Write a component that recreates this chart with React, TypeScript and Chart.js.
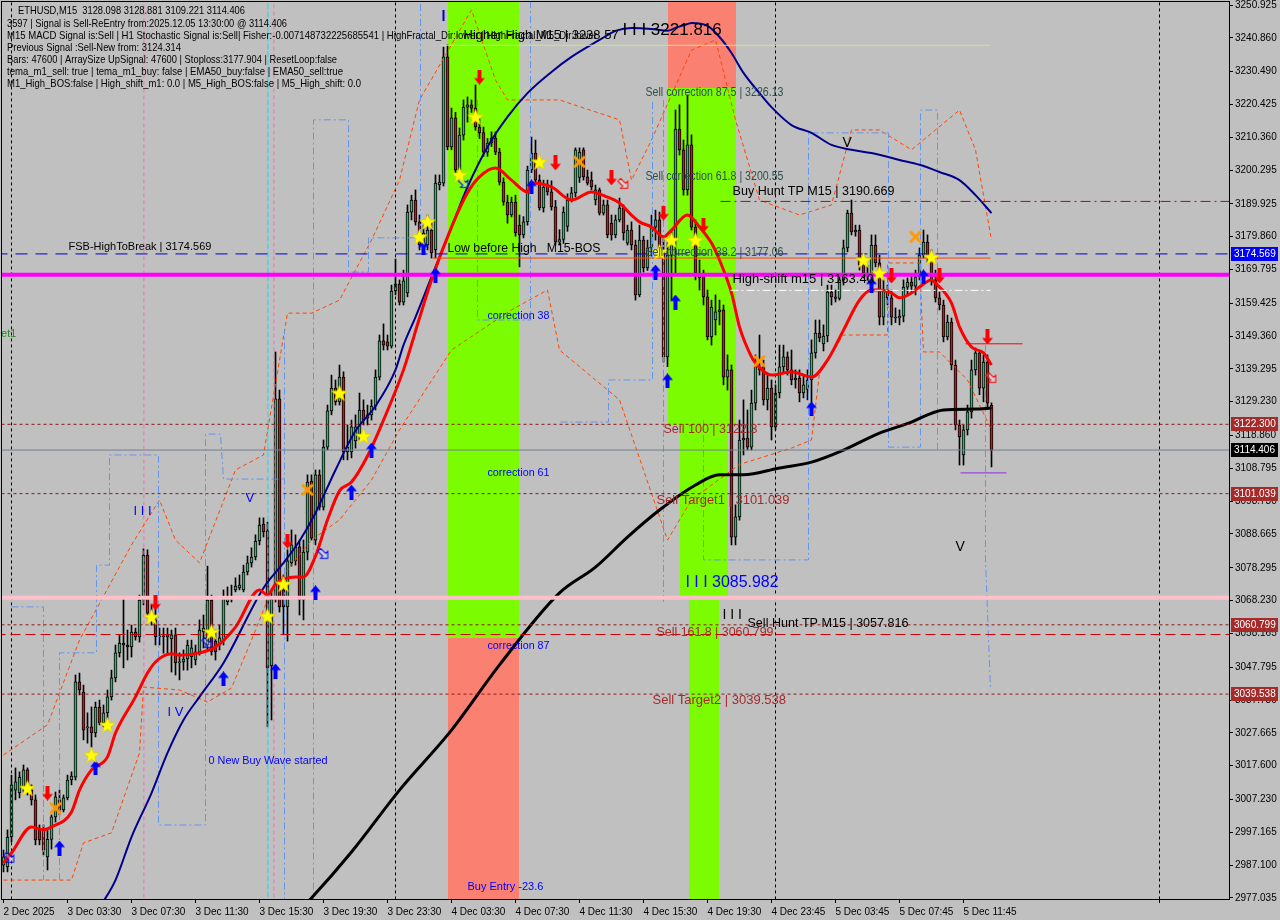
import React, { useEffect, useRef } from "react";
import { Chart, registerables } from "chart.js";

Chart.register(...registerables);

// ---------------- DATA ----------------
// one [open, high, low, close] row per M15 bar (bar 0 = 2 Dec 23:30)
const candles: number[][] = [
  [2987.1, 2991.7, 2985.0, 2989.6], [2986.5, 2997.9, 2985.0, 2995.7], [2995.7, 3014.7, 2994.2, 3011.7], [3010.1, 3016.9, 3007.1, 3012.6],
  [3009.2, 3015.7, 3007.7, 3014.1], [3011.1, 3017.8, 3009.5, 3016.3], [3016.3, 3016.9, 3008.6, 3010.1], [3010.1, 3011.7, 3005.5, 3007.1],
  [3007.1, 3008.6, 2993.3, 2994.8], [2997.9, 2999.4, 2993.3, 2994.8], [2997.9, 2999.4, 2990.2, 2991.7], [2989.6, 2998.0, 2985.6, 2995.0],
  [2995.0, 3002.5, 2992.0, 3001.9], [3001.9, 3009.5, 3000.3, 3008.0], [3007.1, 3010.1, 3002.5, 3004.0], [3004.0, 3008.6, 3003.4, 3007.7],
  [3007.7, 3014.7, 3007.1, 3013.2], [3013.2, 3015.7, 3011.7, 3014.4], [3014.1, 3045.4, 3013.2, 3043.3], [3043.3, 3046.0, 3039.3, 3040.8],
  [3040.2, 3042.3, 3025.5, 3028.5], [3029.2, 3033.8, 3024.5, 3029.5], [3029.5, 3035.6, 3023.3, 3027.6], [3027.6, 3037.1, 3026.4, 3035.6],
  [3035.6, 3037.7, 3030.1, 3030.7], [3030.7, 3036.2, 3029.5, 3033.8], [3033.8, 3040.8, 3031.6, 3038.7], [3038.7, 3046.9, 3037.7, 3044.5],
  [3044.5, 3054.6, 3043.3, 3052.2], [3052.2, 3057.7, 3050.9, 3055.2], [3055.2, 3069.0, 3047.6, 3054.6], [3054.6, 3059.2, 3050.0, 3054.0],
  [3054.0, 3060.7, 3050.9, 3058.6], [3058.6, 3059.8, 3056.1, 3057.1], [3057.1, 3069.9, 3055.5, 3068.4], [3068.4, 3084.1, 3066.9, 3082.2],
  [3082.2, 3083.8, 3062.9, 3064.4], [3064.4, 3066.9, 3060.7, 3062.3], [3062.3, 3066.6, 3054.6, 3057.1], [3057.1, 3059.8, 3054.6, 3057.4],
  [3057.4, 3059.8, 3052.1, 3057.1], [3057.1, 3059.8, 3051.5, 3057.7], [3056.5, 3059.2, 3046.3, 3057.7], [3057.7, 3059.8, 3045.4, 3049.1],
  [3049.1, 3052.2, 3043.9, 3049.4], [3049.4, 3053.1, 3046.9, 3050.3], [3050.3, 3056.1, 3046.9, 3054.6], [3051.0, 3056.1, 3047.6, 3053.7],
  [3050.0, 3054.6, 3048.5, 3052.5], [3052.5, 3062.3, 3051.5, 3059.2], [3058.6, 3063.8, 3053.7, 3059.8], [3054.6, 3078.8, 3053.1, 3068.4],
  [3068.4, 3069.9, 3051.5, 3052.5], [3055.8, 3059.2, 3050.0, 3052.5], [3054.6, 3060.7, 3053.1, 3056.8], [3055.8, 3071.5, 3054.6, 3069.3],
  [3067.8, 3072.4, 3066.9, 3069.3], [3069.0, 3073.0, 3067.8, 3069.6], [3071.5, 3075.2, 3070.9, 3072.7], [3072.1, 3076.1, 3071.5, 3073.0],
  [3071.5, 3079.1, 3070.9, 3077.0], [3077.0, 3081.9, 3076.1, 3079.8], [3079.8, 3084.4, 3078.5, 3081.6], [3081.6, 3088.4, 3080.7, 3086.5],
  [3086.5, 3093.6, 3085.3, 3091.4], [3091.7, 3093.6, 3087.7, 3089.3], [3089.6, 3092.3, 3029.5, 3047.6], [3048.2, 3071.5, 3031.6, 3068.7],
  [3068.7, 3144.5, 3067.8, 3130.1], [3130.1, 3132.8, 3064.7, 3066.3], [3071.5, 3076.1, 3058.0, 3066.3], [3066.3, 3083.8, 3055.8, 3080.4],
  [3079.8, 3089.9, 3078.8, 3085.3], [3080.4, 3088.4, 3079.1, 3084.7], [3084.7, 3086.8, 3063.8, 3068.4], [3068.4, 3086.8, 3062.3, 3083.1],
  [3083.1, 3106.8, 3080.7, 3104.6], [3104.9, 3106.8, 3086.8, 3087.4], [3086.8, 3108.3, 3085.3, 3106.8], [3106.8, 3108.3, 3096.0, 3096.9],
  [3096.9, 3117.5, 3096.0, 3115.3], [3115.3, 3128.2, 3114.4, 3126.4], [3126.4, 3137.4, 3125.2, 3133.4], [3133.4, 3135.9, 3128.2, 3129.2],
  [3129.2, 3140.5, 3128.2, 3136.8], [3136.8, 3138.4, 3111.4, 3113.8], [3113.8, 3122.1, 3111.4, 3115.3], [3113.8, 3123.6, 3112.0, 3121.5],
  [3117.2, 3125.2, 3115.0, 3121.5], [3119.3, 3131.9, 3117.5, 3126.7], [3126.7, 3129.8, 3122.1, 3123.6], [3124.2, 3128.2, 3122.1, 3125.2],
  [3125.2, 3129.8, 3123.6, 3127.9], [3127.9, 3139.0, 3126.7, 3136.8], [3136.8, 3149.7, 3135.9, 3147.9], [3147.9, 3153.1, 3145.1, 3146.6],
  [3147.6, 3149.7, 3145.1, 3146.3], [3146.3, 3165.0, 3145.7, 3163.2], [3163.2, 3173.0, 3162.0, 3165.3], [3165.3, 3166.6, 3158.9, 3159.8],
  [3159.8, 3169.6, 3158.9, 3166.3], [3162.6, 3189.6, 3161.4, 3187.4], [3187.4, 3192.6, 3185.0, 3191.1], [3191.1, 3194.2, 3183.4, 3184.4],
  [3184.4, 3186.5, 3175.8, 3177.3], [3176.7, 3183.4, 3175.8, 3181.0], [3177.3, 3186.5, 3175.8, 3181.9], [3181.9, 3184.4, 3173.3, 3174.9],
  [3175.8, 3198.8, 3173.3, 3196.3], [3195.7, 3198.8, 3194.2, 3196.6], [3196.3, 3238.0, 3195.4, 3235.0], [3235.0, 3238.7, 3206.5, 3207.4],
  [3207.4, 3219.3, 3206.5, 3216.3], [3216.3, 3218.0, 3199.0, 3200.3], [3200.3, 3213.2, 3198.5, 3211.0], [3211.0, 3221.8, 3209.5, 3219.6],
  [3219.6, 3222.7, 3215.0, 3220.3], [3220.3, 3221.8, 3218.0, 3219.3], [3219.3, 3226.4, 3212.5, 3213.5], [3213.5, 3216.0, 3210.0, 3211.8],
  [3211.8, 3213.5, 3204.5, 3205.8], [3205.8, 3210.0, 3204.5, 3208.6], [3208.6, 3212.0, 3207.5, 3210.1], [3210.1, 3212.0, 3205.0, 3205.8],
  [3205.8, 3207.0, 3195.7, 3196.6], [3196.6, 3197.9, 3189.5, 3190.5], [3190.5, 3192.6, 3184.0, 3186.5], [3186.5, 3192.0, 3185.9, 3190.5],
  [3190.5, 3192.6, 3180.0, 3181.0], [3183.4, 3186.5, 3170.6, 3180.4], [3180.4, 3186.0, 3179.5, 3184.4], [3184.4, 3201.5, 3183.4, 3200.3],
  [3200.3, 3210.4, 3199.5, 3205.5], [3205.5, 3209.5, 3196.5, 3197.2], [3197.2, 3198.8, 3188.0, 3188.7], [3188.7, 3197.2, 3187.4, 3195.1],
  [3195.7, 3197.2, 3192.6, 3193.6], [3193.6, 3197.0, 3188.0, 3189.0], [3189.0, 3191.0, 3177.3, 3178.2], [3178.2, 3182.0, 3177.3, 3179.0],
  [3179.0, 3189.0, 3177.8, 3187.4], [3183.0, 3193.0, 3181.5, 3191.1], [3191.1, 3195.0, 3190.5, 3193.3], [3193.3, 3207.1, 3192.0, 3206.5],
  [3198.0, 3207.1, 3196.5, 3205.8], [3206.5, 3207.1, 3197.2, 3198.2], [3198.2, 3200.3, 3195.7, 3196.3], [3197.2, 3199.7, 3194.2, 3195.1],
  [3191.1, 3195.7, 3189.6, 3194.2], [3194.2, 3194.8, 3186.5, 3187.1], [3187.1, 3191.1, 3186.5, 3189.6], [3189.6, 3191.1, 3179.5, 3180.4],
  [3184.0, 3186.5, 3178.8, 3180.4], [3180.4, 3186.5, 3179.5, 3185.0], [3185.0, 3191.7, 3184.4, 3188.7], [3188.7, 3189.6, 3178.8, 3181.0],
  [3177.9, 3183.4, 3177.3, 3181.9], [3181.9, 3184.4, 3175.8, 3177.3], [3177.3, 3178.8, 3160.4, 3162.0], [3162.0, 3183.4, 3161.4, 3178.8],
  [3178.8, 3180.0, 3169.0, 3170.3], [3170.3, 3178.8, 3169.5, 3176.4], [3176.4, 3186.5, 3173.9, 3182.8], [3182.8, 3188.0, 3178.8, 3185.0],
  [3185.0, 3187.4, 3173.9, 3174.9], [3174.9, 3180.0, 3141.4, 3143.0], [3143.0, 3178.0, 3140.0, 3174.2], [3174.2, 3181.9, 3160.4, 3178.8],
  [3178.8, 3218.7, 3168.1, 3212.9], [3212.9, 3220.3, 3204.9, 3206.5], [3206.5, 3209.5, 3192.6, 3194.2], [3194.2, 3223.3, 3192.6, 3208.0],
  [3208.0, 3211.1, 3181.9, 3182.8], [3182.8, 3185.0, 3166.6, 3168.7], [3167.2, 3172.7, 3163.5, 3168.7], [3168.7, 3169.6, 3158.9, 3161.4],
  [3161.4, 3163.5, 3148.2, 3149.1], [3149.1, 3160.4, 3146.6, 3158.3], [3154.3, 3162.0, 3149.7, 3156.8], [3156.8, 3160.4, 3152.8, 3157.4],
  [3157.4, 3158.9, 3134.4, 3136.8], [3136.8, 3143.6, 3132.8, 3139.0], [3139.0, 3140.5, 3085.3, 3087.7], [3087.7, 3097.6, 3085.3, 3093.9],
  [3093.9, 3123.6, 3092.9, 3117.5], [3117.5, 3129.8, 3112.9, 3118.1], [3118.1, 3126.7, 3114.4, 3115.3], [3115.3, 3132.8, 3114.4, 3128.8],
  [3128.8, 3143.6, 3126.7, 3139.9], [3139.0, 3149.7, 3137.4, 3139.9], [3139.9, 3142.0, 3128.2, 3129.8], [3129.8, 3137.4, 3126.7, 3133.4],
  [3133.4, 3135.9, 3117.5, 3121.5], [3121.5, 3134.4, 3120.6, 3131.9], [3131.9, 3146.6, 3130.4, 3139.9], [3139.9, 3146.6, 3138.4, 3143.0],
  [3143.0, 3144.5, 3137.4, 3139.0], [3139.0, 3145.1, 3134.4, 3135.9], [3135.9, 3139.0, 3133.4, 3136.5], [3136.5, 3139.0, 3129.2, 3131.9],
  [3131.9, 3137.4, 3130.4, 3134.4], [3133.0, 3139.0, 3129.8, 3135.9], [3135.9, 3148.2, 3128.2, 3144.2], [3144.2, 3154.3, 3142.6, 3150.3],
  [3150.3, 3154.3, 3147.6, 3148.8], [3147.0, 3152.8, 3144.8, 3149.4], [3149.4, 3165.0, 3147.6, 3162.9], [3162.9, 3165.0, 3158.9, 3161.4],
  [3161.4, 3163.5, 3159.8, 3160.9], [3160.9, 3168.1, 3160.4, 3166.6], [3166.6, 3178.8, 3165.0, 3176.4], [3176.4, 3188.0, 3175.2, 3187.1],
  [3187.1, 3191.1, 3180.4, 3181.3], [3181.3, 3183.4, 3180.0, 3181.9], [3181.9, 3183.4, 3169.6, 3171.2], [3171.2, 3174.2, 3167.2, 3168.7],
  [3168.7, 3171.1, 3166.6, 3167.8], [3167.8, 3180.4, 3166.6, 3177.3], [3177.3, 3180.4, 3170.6, 3171.8], [3171.8, 3174.2, 3152.8, 3155.2],
  [3155.2, 3166.6, 3152.8, 3163.5], [3163.5, 3165.0, 3158.9, 3161.1], [3161.1, 3163.5, 3152.8, 3155.2], [3155.2, 3158.0, 3153.5, 3154.9],
  [3154.9, 3157.4, 3152.8, 3155.5], [3155.5, 3166.6, 3153.7, 3164.4], [3164.4, 3167.2, 3161.7, 3165.9], [3165.9, 3168.1, 3162.9, 3164.7],
  [3164.7, 3169.6, 3162.0, 3167.5], [3167.5, 3176.4, 3166.6, 3174.2], [3174.2, 3181.9, 3173.3, 3178.2], [3178.2, 3180.4, 3172.1, 3173.6],
  [3173.6, 3175.8, 3165.0, 3166.6], [3166.6, 3169.6, 3159.8, 3161.1], [3161.1, 3162.9, 3157.4, 3158.9], [3158.9, 3160.4, 3147.6, 3149.1],
  [3149.1, 3155.8, 3148.2, 3153.7], [3153.7, 3154.9, 3139.0, 3140.5], [3140.5, 3142.0, 3120.6, 3122.1], [3122.1, 3123.6, 3109.8, 3118.4],
  [3112.9, 3122.1, 3109.8, 3120.6], [3120.6, 3128.2, 3119.0, 3126.1], [3126.1, 3142.0, 3124.2, 3139.0], [3139.0, 3145.7, 3137.4, 3144.2],
  [3144.2, 3144.5, 3131.4, 3133.4], [3133.4, 3143.6, 3129.2, 3141.4], [3141.4, 3143.6, 3127.3, 3128.8], [3128.098, 3128.881, 3109.221, 3114.406],
];

const xTickBars = [0, 16, 32, 48, 64, 80, 96, 112, 128, 144, 160, 176, 192, 208, 224, 240, 289];
const xTickLabels = [
  "2 Dec 2025", "3 Dec 03:30", "3 Dec 07:30", "3 Dec 11:30", "3 Dec 15:30", "3 Dec 19:30", "3 Dec 23:30",
  "4 Dec 03:30", "4 Dec 07:30", "4 Dec 11:30", "4 Dec 15:30", "4 Dec 19:30", "4 Dec 23:45", "5 Dec 03:45",
  "5 Dec 07:45", "5 Dec 11:45", "",
];
const yTickValues = [
  3250.925, 3240.86, 3230.49, 3220.425, 3210.36, 3200.295, 3189.925, 3179.86, 3169.795, 3159.425, 3149.36, 3139.295,
  3129.23, 3118.86, 3108.795, 3098.73, 3088.665, 3078.295, 3068.23, 3058.165, 3047.795, 3037.73, 3027.665, 3017.6,
  3007.23, 2997.165, 2987.1, 2977.035,
];

// moving averages
const emaFastBars = [0, 2, 7, 10, 12, 17, 19, 22, 26, 28, 33, 36, 38, 42, 44, 49, 53, 58, 64, 66, 68, 73, 75, 78, 81, 84, 87, 91, 95, 100, 104, 107, 112, 116, 119, 123, 127, 131, 132, 137, 142, 147, 151, 154, 157, 159, 162, 165, 167, 171, 174, 177, 179, 182, 184, 187, 188, 192, 197, 202, 206, 210, 214, 217, 219, 222, 224, 227, 229, 232, 233, 237, 239, 242, 245, 247];
const emaFastVals = [2987.7, 2990.8, 2998.8, 2997.9, 2998.8, 3003.4, 3010.1, 3016.3, 3020.3, 3027.6, 3038.7, 3046.0, 3049.4, 3051.9, 3051.5, 3052.2, 3054.0, 3060.1, 3071.5, 3069.9, 3073.3, 3075.5, 3075.5, 3081.9, 3093.0, 3101.9, 3104.6, 3112.6, 3123.6, 3139.0, 3154.9, 3166.6, 3182.8, 3193.3, 3198.2, 3200.9, 3197.2, 3193.6, 3196.3, 3195.1, 3191.1, 3193.6, 3192.0, 3190.2, 3186.5, 3184.4, 3182.8, 3179.8, 3181.9, 3186.5, 3182.8, 3177.9, 3172.7, 3162.6, 3152.2, 3143.0, 3141.1, 3137.4, 3138.4, 3136.8, 3142.0, 3151.2, 3160.4, 3163.5, 3163.5, 3162.6, 3161.1, 3162.6, 3164.4, 3166.6, 3165.6, 3159.5, 3152.2, 3146.0, 3144.2, 3140.5];
const emaMidBars = [24, 28, 32, 37, 41, 45, 49, 55, 65, 70, 74, 78, 83, 88, 93, 98, 100, 103, 107, 112, 116, 121, 126, 131, 137, 142, 149, 153, 157, 162, 166, 168, 171, 172, 176, 179, 182, 185, 189, 192, 197, 202, 207, 212, 217, 224, 229, 234, 239, 243, 247];
const emaMidVals = [2974.0, 2982.5, 2995.7, 3009.2, 3021.5, 3031.6, 3038.7, 3049.1, 3072.1, 3079.8, 3086.5, 3095.1, 3108.3, 3120.3, 3127.9, 3139.0, 3146.6, 3155.2, 3167.5, 3182.8, 3195.1, 3207.4, 3216.6, 3223.9, 3230.4, 3235.0, 3240.2, 3243.0, 3243.9, 3243.6, 3243.0, 3243.9, 3245.1, 3245.4, 3244.5, 3241.1, 3236.2, 3230.1, 3223.9, 3219.6, 3214.1, 3211.7, 3208.0, 3206.5, 3205.5, 3203.4, 3201.9, 3199.7, 3197.2, 3192.6, 3187.1];
const emaSlowBars = [75, 77, 87, 99, 112, 124, 139, 148, 156, 164, 173, 179, 185, 194, 202, 210, 219, 227, 231, 235, 243, 247];
const emaSlowVals = [2974.5, 2977.0, 2991.1, 3010.1, 3028.5, 3048.5, 3070.6, 3078.5, 3087.7, 3096.0, 3103.7, 3106.8, 3106.8, 3108.9, 3110.7, 3114.4, 3119.6, 3123.0, 3125.2, 3126.7, 3127.0, 3127.3];

// dashed envelope bands
const bandUpBars = [0, 11, 19, 32, 39, 43, 49, 58, 65, 71, 77, 84, 92, 99, 104, 117, 123, 126, 139, 154, 157, 162, 172, 178, 183, 189, 199, 207, 212, 219, 227, 233, 239, 243, 247];
const bandUpVals = [3020.9, 3030.1, 3056.1, 3085.3, 3099.1, 3086.8, 3079.8, 3108.3, 3112.9, 3156.4, 3156.4, 3160.4, 3178.8, 3197.2, 3221.8, 3249.4, 3227.9, 3221.8, 3221.8, 3215.7, 3197.2, 3209.5, 3237.1, 3240.2, 3215.7, 3191.1, 3186.5, 3189.6, 3212.6, 3212.6, 3206.5, 3212.6, 3218.7, 3206.5, 3178.8];
const bandLoBars = [0, 17, 20, 27, 34, 35, 44, 51, 57, 62, 67, 77, 84, 92, 99, 112, 127, 136, 139, 154, 166, 172, 184, 197, 202, 204, 210, 221, 221, 229, 230, 234, 241, 247];
const bandLoVals = [2982.5, 2982.5, 2993.9, 2997.0, 3021.5, 3041.7, 3040.8, 3037.1, 3041.4, 3056.1, 3071.5, 3086.8, 3093.0, 3105.2, 3120.6, 3145.1, 3157.4, 3163.5, 3145.1, 3129.8, 3086.8, 3099.1, 3110.0, 3115.0, 3117.5, 3138.0, 3149.7, 3149.7, 3171.8, 3171.8, 3144.5, 3144.5, 3135.9, 3120.6];

// dash-dot step channels
const stepABars = [2, 10, 10];
const stepAVals = [3066.3, 3066.3, 2982.5];
const stepBBars = [14, 14, 23.25, 23.25, 26.5, 26.5, 38.75, 38.75, 50.5, 50.5, 54.25, 55, 70.25];
const stepBVals = [2982.5, 3052.2, 3052.2, 3079.1, 3079.1, 3112.9, 3112.9, 2999.4, 2999.4, 3119.3, 3119.3, 3105.5, 3105.5];
const stepCBars = [70.25, 70.25];
const stepCVals = [2975.0, 3151.2];
const stepDBars = [77.5, 77.5, 86.25, 86.25, 91.25, 91.25, 104.25, 104.25];
const stepDVals = [2975.0, 3215.7, 3215.7, 3169.0, 3169.0, 3179.5, 3179.5, 3252.0];
const stepEBars = [139.25, 151.25, 151.25, 162.25, 162.25];
const stepEVals = [3123.0, 3123.0, 3135.9, 3135.9, 3221.8];
const stepFBars = [165, 165];
const stepFVals = [3221.8, 3067.5];
const stepGBars = [175, 175, 201.25, 201.25, 221.25, 221.25, 229.25, 229.25, 233.5, 233.5];
const stepGVals = [3123.6, 3080.7, 3080.7, 3211.7, 3211.7, 3115.3, 3115.3, 3218.7, 3218.7, 3114.4];
const stepHBars = [245.5, 245.5, 246.75];
const stepHVals = [3146.6, 3080.7, 3040.8];
const stepIBars = [118.5, 118.5, 131.75, 131.75];
const stepIVals = [3221.8, 3154.3, 3154.3, 3252.0];

// signal markers
const starBars = [6, 22, 26, 37, 52, 66, 70, 84, 90, 104, 106, 114, 118, 134, 164, 167, 173, 215, 219, 232];
const starVals = [3010.7, 3020.9, 3030.1, 3063.2, 3058.6, 3063.5, 3073.3, 3131.9, 3118.7, 3179.8, 3184.4, 3198.8, 3216.6, 3202.8, 3175.2, 3178.8, 3178.8, 3172.7, 3168.7, 3173.6];
const buyArrowBars = [14, 23, 55, 68, 78, 87, 92, 105, 108, 132, 163, 166, 168, 202, 217, 230];
const buyArrowVals = [2992.3, 3016.9, 3044.2, 3046.6, 3070.6, 3101.5, 3114.4, 3176.4, 3168.1, 3195.1, 3169.0, 3135.6, 3159.8, 3127.0, 3165.0, 3167.5];
const sellArrowBars = [11, 38, 71, 119, 138, 152, 165, 175, 222, 234, 246];
const sellArrowVals = [3009.2, 3067.5, 3086.5, 3228.8, 3202.5, 3197.9, 3187.1, 3183.4, 3167.8, 3167.8, 3149.1];
const crossBars = [13, 76, 144, 189, 228];
const crossVals = [3004.6, 3102.2, 3202.8, 3141.7, 3179.8];
const hollowBuyBars = [1.5, 51, 80, 115];
const hollowBuyVals = [2989.3, 3055.2, 3082.5, 3196.3];
const hollowSellBars = [155, 247];
const hollowSellVals = [3196.0, 3136.5];

// horizontal levels
const magentaLevel = 3168.2;
const pinkLevel = 3069.1;
const fsbLevel = 3174.569;
const lowBeforeHighLevel = 3173.3;
const sellLevels = [3122.3, 3101.039, 3060.799, 3039.538];
const sellHuntLevel = 3057.816;
const buyHuntLevel = 3190.669;
const bidLevel = 3114.406;
const highShiftLevel = 3163.4;
const higherHighLevel = 3238.57;
const stopMarkLevel = 3147.0;
const lowMarkLevel = 3107.4;

// vertical markers (bar positions)
const daySeparatorBars = [2, 98, 193, 289];
const pinkVerticalBars = [35.1, 67.6];
const cyanVerticalBars = [66.1];
const waveTickBar = 110;
const waveTickVals = [3249.4, 3246.0];

// shaded zones
const zoneFrom = [111, 111, 166, 166, 169, 171.25];
const zoneTo = [128.75, 128.75, 183, 183, 181, 179];
const zoneLow = [3056.75, 2970, 3225.5, 3122.1, 3069.3, 2970];
const zoneHigh = [3260, 3056.75, 3260, 3225.5, 3122.1, 3069.3];

// price tags on the axis
const priceTags = [3174.569, 3122.3, 3114.406, 3101.039, 3060.799, 3039.538];

// chart texts
const noteTexts = [
  "FSB-HighToBreak | 3174.569", "Low before High   M15-BOS", "Higher High M15 | 3238.57", "I I I 3221.816",
  "Sell correction 87.5 | 3226.13", "Sell correction 61.8 | 3200.55", "Sell correction 38.2 | 3177.06",
  "Buy Hunt TP M15 | 3190.669", "High-shift m15 | 3163.40", "Sell 100 | 3122.3", "Sell Target1 | 3101.039",
  "Sell 161.8 | 3060.799", "Sell Target2 | 3039.538", "I I I 3085.982", "I I I", "Sell Hunt TP M15 | 3057.816",
  "V", "V", "correction 38", "correction 61", "correction 87", "Buy Entry -23.6", "0 New Buy Wave started",
  "I I I", "I V", "V", "et1",
];
const noteBars = [16.25, 111, 115, 154.75, 160.5, 160.5, 160.5, 182.25, 182.25, 165, 163.25, 163.25, 162.25, 170.5, 179.75, 186, 238, 209.75, 121, 121, 121, 116, 51.25, 32.5, 41, 60.5, -0.6];
const noteVals = [3176.7, 3176.4, 3241.7, 3243.3, 3223.9, 3198.2, 3174.9, 3193.6, 3166.6, 3120.6, 3099.1, 3058.6, 3037.7, 3073.6, 3063.8, 3061.3, 3084.7, 3208.6, 3155.5, 3107.4, 3054.3, 2980.4, 3019.0, 3095.7, 3033.8, 3099.7, 3150.0];

const infoLines = [
  "ETHUSD,M15  3128.098 3128.881 3109.221 3114.406",
  "3597 | Signal is Sell-ReEntry from:2025.12.05 13:30:00 @ 3114.406",
  "M15 MACD Signal is:Sell | H1 Stochastic Signal is:Sell| Fisher:-0.007148732225685541 | HighFractal_Dir:lower | HighFractal_M5_Dir:lower",
  "Previous Signal :Sell-New from: 3124.314",
  "Bars: 47600 | ArraySize UpSignal: 47600 | Stoploss:3177.904 | ResetLoop:false",
  "tema_m1_sell: true | tema_m1_buy: false | EMA50_buy:false | EMA50_sell:true",
  "M1_High_BOS:false | High_shift_m1: 0.0 | M5_High_BOS:false | M5_High_shift: 0.0",
];

// ---------------- STYLE ----------------
const FONT = "'Liberation Sans', Arial, sans-serif";
const BULL = "#3CB371";
const BEAR = "#B22222";
const zoneColors = ["#7CFC00", "#FA8072", "#FA8072", "#7CFC00", "#7CFC00", "#7CFC00"];
const tagColors = ["#0000FF", "#A52A2A", "#000000", "#A52A2A", "#A52A2A", "#A52A2A"];
const noteStyles = [
  { c: "#000", s: 11, w: 178 }, { c: "#000", s: 13, w: 153 }, { c: "#000", s: 13, w: 157 }, { c: "#000", s: 17, w: 100 },
  { c: "#2F4F4F", s: 12, w: 138 }, { c: "#2F4F4F", s: 12, w: 138 }, { c: "#2F4F4F", s: 12, w: 138 },
  { c: "#000", s: 13, w: 162 }, { c: "#000", s: 13, w: 143 }, { c: "#A52A2A", s: 13, w: 94 }, { c: "#A52A2A", s: 13, w: 133 },
  { c: "#A52A2A", s: 13, w: 117 }, { c: "#A52A2A", s: 13, w: 134 }, { c: "#0000FF", s: 16, w: 93 }, { c: "#000", s: 14, w: 20 },
  { c: "#000", s: 13, w: 161 }, { c: "#000", s: 14, w: 0 }, { c: "#000", s: 14, w: 0 },
  { c: "#0000FF", s: 11, w: 62 }, { c: "#0000FF", s: 11, w: 62 }, { c: "#0000FF", s: 11, w: 62 }, { c: "#0000FF", s: 11, w: 81 },
  { c: "#0000FF", s: 11, w: 119 }, { c: "#0000FF", s: 13, w: 20 }, { c: "#0000FF", s: 13, w: 18 }, { c: "#0000FF", s: 13, w: 0 },
  { c: "#228B22", s: 11, w: 0 },
];
const infoWidths = [227, 280, 590, 174, 330, 336, 354];

const X_MIN = -0.375;
const X_MAX = 306.375;
const Y_MIN = 2976.692;
const Y_MAX = 3251.846;

function pts(bars: number[], vals: number[]) {
  return bars.map((b, i) => ({ x: b, y: vals[i] }));
}

function lineDs(bars: number[], vals: number[], color: string, width: number, dash: number[], order: number, smooth = false) {
  return {
    type: "line",
    data: pts(bars, vals),
    borderColor: color,
    borderWidth: width,
    borderDash: dash,
    pointRadius: 0,
    fill: false,
    tension: 0,
    cubicInterpolationMode: smooth ? "monotone" : "default",
    order,
  };
}

function hLine(v: number, from: number, to: number, color: string, width: number, dash: number[], order: number) {
  return lineDs([from, to], [v, v], color, width, dash, order);
}

function vLine(b: number, color: string, width: number, dash: number[], order: number) {
  return lineDs([b, b], [2960, 3270], color, width, dash, order);
}

function makeStar() {
  const c = document.createElement("canvas");
  c.width = 17; c.height = 17;
  const g = c.getContext("2d")!;
  g.beginPath();
  for (let k = 0; k < 10; k++) {
    const a = -Math.PI / 2 + (k * Math.PI) / 5;
    const r = k % 2 === 0 ? 8.3 : 3.5;
    g.lineTo(8.5 + r * Math.cos(a), 9.2 + r * Math.sin(a));
  }
  g.closePath();
  g.fillStyle = "#FFFF00";
  g.fill();
  g.strokeStyle = "#E0C800";
  g.lineWidth = 0.7;
  g.stroke();
  return c;
}

function makeArrow(color: string, up: boolean) {
  const c = document.createElement("canvas");
  c.width = 11; c.height = 15;
  const g = c.getContext("2d")!;
  if (!up) { g.translate(0, 15); g.scale(1, -1); }
  g.beginPath();
  g.moveTo(5.5, 0); g.lineTo(11, 6.5); g.lineTo(7.5, 6.5); g.lineTo(7.5, 15); g.lineTo(3.5, 15); g.lineTo(3.5, 6.5); g.lineTo(0, 6.5);
  g.closePath();
  g.fillStyle = color;
  g.fill();
  return c;
}

function makeCross() {
  const c = document.createElement("canvas");
  c.width = 13; c.height = 13;
  const g = c.getContext("2d")!;
  g.strokeStyle = "#FF9900";
  g.lineWidth = 3;
  g.lineCap = "round";
  g.beginPath(); g.moveTo(2, 2); g.lineTo(11, 11); g.moveTo(11, 2); g.lineTo(2, 11); g.stroke();
  return c;
}

function makeHollow(color: string) {
  const c = document.createElement("canvas");
  c.width = 14; c.height = 14;
  const g = c.getContext("2d")!;
  g.translate(7, 7);
  g.rotate(Math.PI / 4);
  g.beginPath();
  g.moveTo(-6, -2); g.lineTo(1, -2); g.lineTo(1, -5); g.lineTo(6, 0); g.lineTo(1, 5); g.lineTo(1, 2); g.lineTo(-6, 2);
  g.closePath();
  g.fillStyle = "rgba(255,255,255,0.25)";
  g.fill();
  g.strokeStyle = color;
  g.lineWidth = 1;
  g.stroke();
  return c;
}

const decorPlugin = {
  id: "mt4decor",
  beforeDraw(chart: any) {
    const { ctx, width, height } = chart;
    ctx.save();
    ctx.fillStyle = "#C0C0C0";
    ctx.fillRect(0, 0, width, height);
    ctx.restore();
  },
  beforeDatasetsDraw(chart: any) {
    const { ctx, chartArea: a, scales } = chart;
    const x = scales.x, y = scales.y;
    ctx.save();
    ctx.beginPath();
    ctx.rect(a.left, a.top, a.right - a.left, a.bottom - a.top);
    ctx.clip();
    zoneFrom.forEach((f, i) => {
      const x0 = Math.round(x.getPixelForValue(f));
      const x1 = Math.round(x.getPixelForValue(zoneTo[i]));
      const y0 = Math.round(y.getPixelForValue(zoneHigh[i]));
      const y1 = Math.round(y.getPixelForValue(zoneLow[i]));
      ctx.fillStyle = zoneColors[i];
      ctx.fillRect(x0, y0, x1 - x0, y1 - y0);
    });
    ctx.restore();
  },
  afterDatasetsDraw(chart: any) {
    const { ctx, chartArea: a, scales } = chart;
    const x = scales.x, y = scales.y;
    ctx.save();
    ctx.beginPath();
    ctx.rect(a.left, a.top, a.right - a.left, a.bottom - a.top);
    ctx.clip();
    ctx.textBaseline = "middle";
    ctx.textAlign = "left";
    noteTexts.forEach((t, i) => {
      const st = noteStyles[i];
      ctx.font = `${st.s}px ${FONT}`;
      ctx.fillStyle = st.c;
      const px = x.getPixelForValue(noteBars[i]);
      const py = y.getPixelForValue(noteVals[i]);
      if (st.w) ctx.fillText(t, px, py, st.w);
      else ctx.fillText(t, px, py);
    });
    ctx.restore();
  },
  afterDraw(chart: any) {
    const { ctx, chartArea: a, scales } = chart;
    const y = scales.y;
    ctx.save();
    // frame
    ctx.strokeStyle = "#000";
    ctx.lineWidth = 1;
    ctx.strokeRect(a.left - 0.5, a.top - 0.5, a.right - a.left + 1, a.bottom - a.top + 1);
    // info block
    ctx.fillStyle = "#000";
    ctx.textBaseline = "middle";
    ctx.textAlign = "left";
    ctx.font = `10.5px ${FONT}`;
    const rows = [11, 24, 36, 48, 60, 72, 84];
    infoLines.forEach((t, i) => {
      const lx = i === 0 ? a.left + 16 : a.left + 5;
      ctx.fillText(t, lx, rows[i], infoWidths[i]);
    });
    // price tags on the axis
    ctx.font = `10px ${FONT}`;
    priceTags.forEach((p, i) => {
      const py = Math.round(y.getPixelForValue(p));
      ctx.fillStyle = tagColors[i];
      ctx.fillRect(a.right + 2, py - 7, 47, 14);
      ctx.fillStyle = "#FFFFFF";
      ctx.fillText(p.toFixed(3), a.right + 5, py + 0.5, 42);
    });
    ctx.restore();
  },
};

export default function App() {
  const ref = useRef<HTMLCanvasElement>(null);

  useEffect(() => {
    document.body.style.margin = "0";
    const canvas = ref.current;
    if (!canvas) return;

    const star = makeStar();
    const upArrow = makeArrow("#0000FF", true);
    const downArrow = makeArrow("#FF0000", false);
    const cross = makeCross();
    const hollowBlue = makeHollow("#0000FF");
    const hollowRed = makeHollow("#FF0000");

    const markerDs = (bars: number[], vals: number[], img: HTMLCanvasElement) => ({
      type: "line",
      data: pts(bars, vals),
      showLine: false,
      pointStyle: img,
      pointRadius: 6,
      order: 5,
    });

    const full0 = -2, full1 = 310;
    const datasets: any[] = [
      // candles
      {
        type: "bar",
        data: candles.map((c, i) => ({ x: i, y: [c[2], c[1]] })),
        backgroundColor: "#000",
        borderWidth: 0,
        barThickness: 1,
        grouped: false,
        order: 100,
      },
      {
        type: "bar",
        data: candles.map((c, i) => ({ x: i, y: [Math.min(c[0], c[3]), Math.max(c[0], c[3])] })),
        backgroundColor: candles.map((c) => (c[3] >= c[0] ? BULL : BEAR)),
        borderColor: "#000",
        borderWidth: 1,
        borderSkipped: false,
        barThickness: 3,
        minBarLength: 1,
        grouped: false,
        order: 99,
      },
      // vertical guides
      ...daySeparatorBars.map((b) => vLine(b, "#000", 1, [3, 3], 90)),
      ...pinkVerticalBars.map((b) => vLine(b, "#FF69B4", 1, [4, 3], 90)),
      ...cyanVerticalBars.map((b) => vLine(b, "#00E5FF", 1, [6, 2], 90)),
      lineDs([waveTickBar, waveTickBar], waveTickVals, "#0000CD", 2, [], 50),
      // envelopes
      lineDs(bandUpBars, bandUpVals, "#FF4500", 1, [4, 3], 80),
      lineDs(bandLoBars, bandLoVals, "#FF4500", 1, [4, 3], 80),
      lineDs(stepABars, stepAVals, "#6495ED", 1, [7, 3, 2, 3], 79),
      lineDs(stepBBars, stepBVals, "#6495ED", 1, [7, 3, 2, 3], 79),
      lineDs(stepCBars, stepCVals, "#6495ED", 1, [7, 3, 2, 3], 79),
      lineDs(stepDBars, stepDVals, "#6495ED", 1, [7, 3, 2, 3], 79),
      lineDs(stepEBars, stepEVals, "#6495ED", 1, [7, 3, 2, 3], 79),
      lineDs(stepFBars, stepFVals, "#6495ED", 1, [7, 3, 2, 3], 79),
      lineDs(stepGBars, stepGVals, "#6495ED", 1, [7, 3, 2, 3], 79),
      lineDs(stepHBars, stepHVals, "#6495ED", 1, [7, 3, 2, 3], 79),
      lineDs(stepIBars, stepIVals, "#6495ED", 1, [7, 3, 2, 3], 79),
      // moving averages
      lineDs(emaSlowBars, emaSlowVals, "#000000", 3, [], 60, true),
      lineDs(emaMidBars, emaMidVals, "#00008B", 2, [], 59, true),
      lineDs(emaFastBars, emaFastVals, "#FF0000", 3, [], 58, true),
      // levels
      hLine(bidLevel, full0, full1, "#708090", 1, [], 45),
      hLine(fsbLevel, full0, full1, "#0000CD", 1, [12, 8], 44),
      hLine(lowBeforeHighLevel, 107.25, 246.75, "#FF4500", 1, [], 44),
      ...sellLevels.map((v) => hLine(v, full0, full1, "#8B1A1A", 1, [3, 3], 44)),
      hLine(sellHuntLevel, full0, full1, "#CC0000", 1, [10, 5], 44),
      hLine(buyHuntLevel, 179.25, full1, "#CC0000", 1, [10, 4, 2, 4], 44),
      hLine(highShiftLevel, 181.75, 246.75, "#FFFFFF", 1, [8, 3, 2, 3], 44),
      hLine(higherHighLevel, 109.25, 246.75, "#C8EC7A", 1, [], 44),
      hLine(stopMarkLevel, 240.5, 254.75, "#FF0000", 1, [], 44),
      hLine(lowMarkLevel, 239.25, 250.75, "#8A2BE2", 1, [], 44),
      hLine(magentaLevel, full0, full1, "#FF00FF", 4, [], 43),
      hLine(pinkLevel, full0, full1, "#FFC0CB", 4, [], 43),
      // markers
      markerDs(starBars, starVals, star),
      markerDs(buyArrowBars, buyArrowVals, upArrow),
      markerDs(sellArrowBars, sellArrowVals, downArrow),
      markerDs(crossBars, crossVals, cross),
      markerDs(hollowBuyBars, hollowBuyVals, hollowBlue),
      markerDs(hollowSellBars, hollowSellVals, hollowRed),
    ];

    const chart = new Chart(canvas, {
      type: "bar",
      data: { datasets },
      plugins: [decorPlugin],
      options: {
        animation: false,
        responsive: false,
        maintainAspectRatio: false,
        events: [],
        layout: { autoPadding: false, padding: { left: 2, top: 2, right: 0, bottom: 0 } },
        plugins: { legend: { display: false }, tooltip: { enabled: false }, title: { display: false } },
        scales: {
          x: {
            type: "linear",
            position: "bottom",
            min: X_MIN,
            max: X_MAX,
            offset: false,
            grid: { display: true, offset: false, drawOnChartArea: false, drawTicks: true, tickLength: 4, color: "#000" },
            border: { display: true, color: "#000" },
            afterBuildTicks: (s: any) => { s.ticks = xTickBars.map((v) => ({ value: v })); },
            afterFit: (s: any) => { s.height = 21; s.paddingLeft = 0; s.paddingRight = 0; },
            ticks: {
              autoSkip: false,
              maxRotation: 0,
              minRotation: 0,
              align: "start",
              padding: 3,
              color: "#000",
              font: { family: FONT, size: 10 },
              callback: (_v: any, i: number) => xTickLabels[i],
            },
          },
          y: {
            type: "linear",
            position: "right",
            min: Y_MIN,
            max: Y_MAX,
            beginAtZero: false,
            grid: { display: true, drawOnChartArea: false, drawTicks: true, tickLength: 4, color: "#000" },
            border: { display: true, color: "#000" },
            afterBuildTicks: (s: any) => { s.ticks = yTickValues.map((v) => ({ value: v })); },
            afterFit: (s: any) => { s.width = 51; s.paddingTop = 0; s.paddingBottom = 0; },
            ticks: {
              autoSkip: false,
              padding: 2,
              color: "#000",
              font: { family: FONT, size: 10 },
              callback: (v: any) => Number(v).toFixed(3),
            },
          },
        },
      } as any,
    } as any);

    return () => chart.destroy();
  }, []);

  return (
    <div style={{ width: 1280, height: 920, background: "#C0C0C0" }}>
      <canvas ref={ref} width={1280} height={920} style={{ display: "block" }} />
    </div>
  );
}
